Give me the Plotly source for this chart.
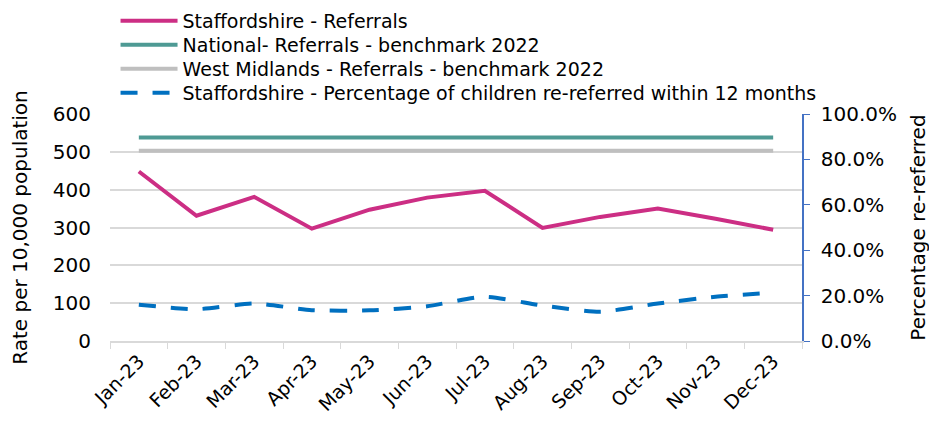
import plotly.graph_objects as go

months = ["Jan-23", "Feb-23", "Mar-23", "Apr-23", "May-23", "Jun-23",
          "Jul-23", "Aug-23", "Sep-23", "Oct-23", "Nov-23", "Dec-23"]
staffs_referrals = [448, 331, 381, 297, 347, 379, 397, 299, 328, 350, 323, 294]
national_benchmark = [538] * 12
west_midlands_benchmark = [503] * 12
rereferred_pct = [0.160, 0.140, 0.165, 0.136, 0.135, 0.153,
                  0.195, 0.156, 0.129, 0.165, 0.195, 0.213]

FONT = "DejaVu Sans"

fig = go.Figure()
fig.add_trace(go.Scatter(x=months, y=staffs_referrals, mode="lines",
                         name="Staffordshire - Referrals", legend="legend",
                         line=dict(color="#CC2E84", width=4)))
fig.add_trace(go.Scatter(x=months, y=national_benchmark, mode="lines",
                         name="National- Referrals - benchmark 2022", legend="legend2",
                         line=dict(color="#4E9A94", width=4)))
fig.add_trace(go.Scatter(x=months, y=west_midlands_benchmark, mode="lines",
                         name="West Midlands - Referrals - benchmark 2022", legend="legend3",
                         line=dict(color="#BFBFBF", width=4)))
fig.add_trace(go.Scatter(x=months, y=rereferred_pct, mode="lines",
                         name="Staffordshire - Percentage of children re-referred within 12 months",
                         yaxis="y2", legend="legend4",
                         line=dict(color="#0070C0", width=4, dash="17px,15px",
                                   shape="spline", smoothing=0.6)))

# page body has an 8px margin: figure is drawn from (8, 8)
PLOT_TOP, PLOT_BOTTOM = 114, 341


def leg_y(py):
    return (PLOT_BOTTOM - py) / (PLOT_BOTTOM - PLOT_TOP)


def legend_box(py):
    return dict(x=0.008, y=leg_y(py), xanchor="left", yanchor="middle",
                font=dict(family=FONT, size=19, color="#000000"),
                bgcolor="rgba(0,0,0,0)", itemwidth=57)


fig.update_layout(
    width=929, height=413,
    margin=dict(l=102, r=135, t=106, b=80, autoexpand=False),
    paper_bgcolor="white", plot_bgcolor="white",
    font=dict(family=FONT, size=19, color="#000000"),
    showlegend=True,
    legend=legend_box(21),
    legend2=legend_box(45),
    legend3=legend_box(69),
    legend4=legend_box(93),
    xaxis=dict(type="category", tickangle=-45, tickson="boundaries",
               ticks="outside", ticklen=6, tickcolor="#D9D9D9",
               showline=True, linecolor="#D9D9D9", linewidth=1.5,
               showgrid=False, tickfont=dict(size=19), range=[-0.5, 11.5]),
    yaxis=dict(range=[0, 600], dtick=100, showgrid=True, gridcolor="#D9D9D9",
               gridwidth=1.5, zeroline=False, showline=False,
               ticks="", tickfont=dict(size=20), ticklabelstandoff=18,
               title=dict(text="Rate per 10,000 population", font=dict(size=20),
                          standoff=21)),
    yaxis2=dict(range=[0, 1], dtick=0.2, tickformat=".1%", overlaying="y",
                side="right", showgrid=False, zeroline=False,
                showline=True, linecolor="#4472C4", linewidth=1.5,
                ticks="outside", ticklen=6, tickcolor="#4472C4",
                tickfont=dict(size=20), ticklabelstandoff=7,
                title=dict(text="Percentage re-referred", font=dict(size=20),
                           standoff=15)),
)

fig.write_html("out.html")
